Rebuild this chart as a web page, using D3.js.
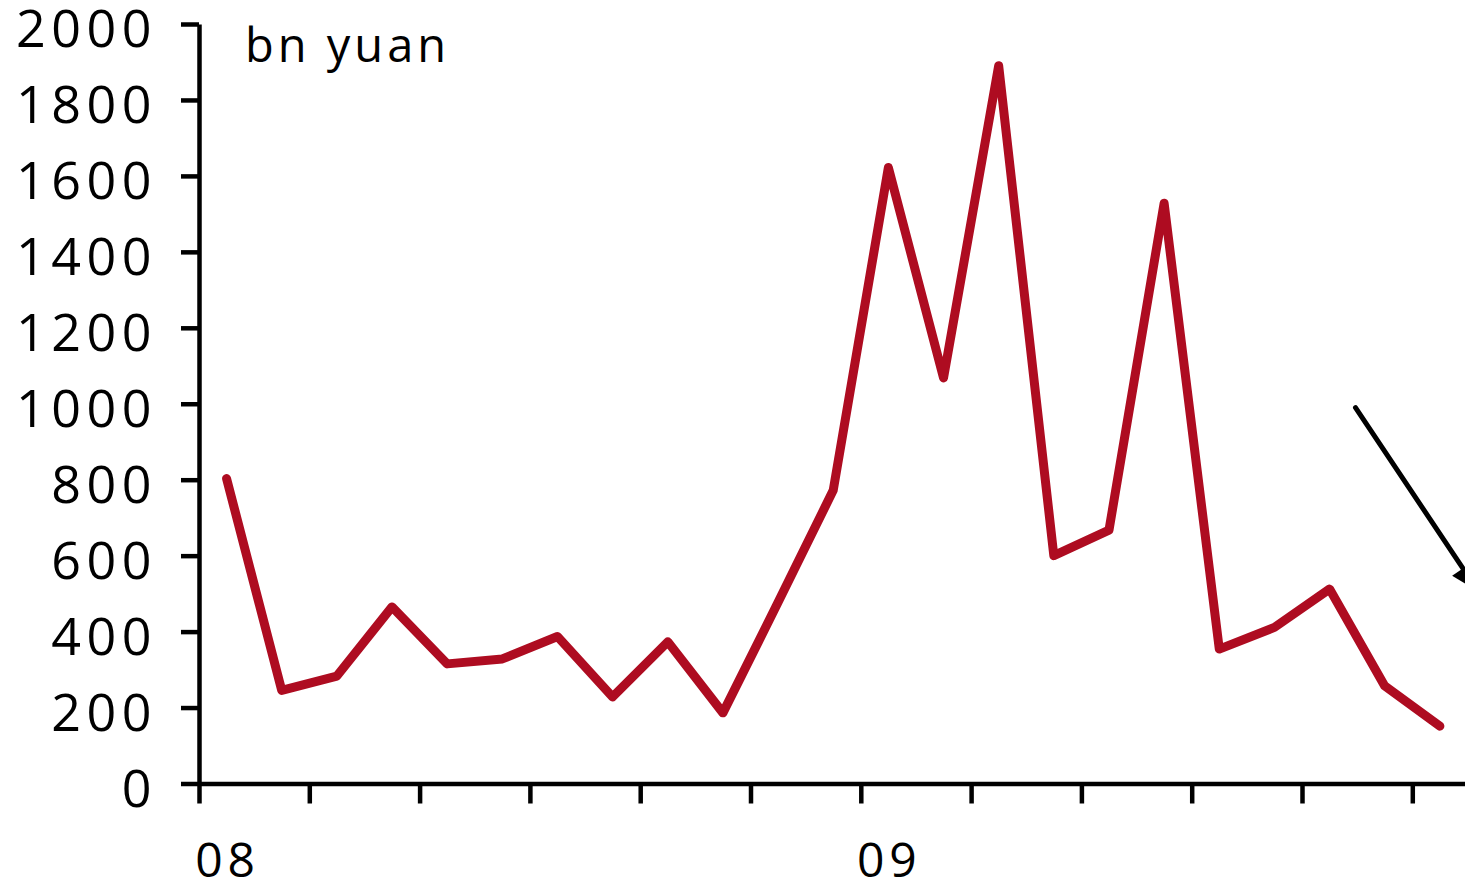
<!DOCTYPE html>
<html><head><meta charset="utf-8">
<script src="https://cdn.jsdelivr.net/npm/d3@7"></script>
<style>body{margin:0;background:#fff;} svg{display:block;}</style>
</head><body>
<svg id="chart" width="1465" height="887"></svg>
<script>
// Monthly new loans, Jan 2008 – Nov 2009 (bn yuan)
const months = ["2008-01","2008-02","2008-03","2008-04","2008-05","2008-06","2008-07","2008-08","2008-09","2008-10","2008-11","2008-12",
                "2009-01","2009-02","2009-03","2009-04","2009-05","2009-06","2009-07","2009-08","2009-09","2009-10","2009-11"];
const loans = [803, 245, 283, 465, 315, 328, 387, 228, 373, 186, 477, 772,
               1622, 1068, 1890, 600, 667, 1528, 354, 411, 512, 257, 151];
const yTicks = [0,200,400,600,800,1000,1200,1400,1600,1800,2000];
const xTickMonths = [0,2,4,6,8,10,12,14,16,18,20,22];
const yearLabels = ["08","09"];
const yearStartIndex = [0,12];
const unitLabel = "bn yuan";
// annotation arrow (month index, value)
const arrowFrom = [20.97, 990];
const arrowTo = [23.2, 505];

const svg = d3.select("#chart");
const FONT = "'Open Sans', 'Noto Sans', sans-serif";
const x = d3.scaleLinear().domain([0, 24]).range([199, 199 + 24 * 55.15]);
const y = d3.scaleLinear().domain([0, 2000]).range([783.5, 24]);

// y axis
const yAxis = svg.append("g").attr("transform", "translate(199,0)")
  .call(d3.axisLeft(y).tickValues(yTicks).tickFormat(d3.format("d"))
    .tickSize(18).tickSizeOuter(0).tickPadding(24));
yAxis.select(".domain").attr("stroke", "#000").attr("stroke-width", 4.5);
yAxis.selectAll(".tick line").attr("stroke", "#000").attr("stroke-width", 4.5);
yAxis.selectAll(".tick text").attr("fill", "#000")
  .style("font-family", FONT).style("font-size", "52px").style("letter-spacing", "5.5px")
  .attr("y", 4).attr("dy", "0.36em");

// x axis
const xAxis = svg.append("g").attr("transform", `translate(0,${y(0)})`)
  .call(d3.axisBottom(x).tickValues(xTickMonths).tickSize(20).tickSizeOuter(0).tickFormat(""));
xAxis.select(".domain").attr("stroke", "#000").attr("stroke-width", 4.5);
xAxis.selectAll(".tick line").attr("stroke", "#000").attr("stroke-width", 4.5);

svg.append("g").selectAll("text").data(yearLabels).join("text")
  .attr("x", (d, i) => x(yearStartIndex[i] + 0.5) + 1)
  .attr("y", 877)
  .attr("text-anchor", "middle")
  .style("font-family", FONT).style("font-size", "48px").style("letter-spacing", "5px")
  .attr("fill", "#000")
  .text(d => d);

// unit label
svg.append("text").attr("x", 245).attr("y", 62)
  .style("font-family", FONT).style("font-size", "47px").style("letter-spacing", "4px")
  .attr("fill", "#000").text(unitLabel);

// line
const line = d3.line().x((d, i) => x(i + 0.5)).y(d => y(d));
svg.append("path").datum(loans)
  .attr("d", line)
  .attr("fill", "none")
  .attr("stroke", "#AE0C21")
  .attr("stroke-width", 9)
  .attr("stroke-linejoin", "round")
  .attr("stroke-linecap", "round");

// arrow
const ax1 = x(arrowFrom[0]), ay1 = y(arrowFrom[1]);
const ax2 = x(arrowTo[0]), ay2 = y(arrowTo[1]);
const ang = Math.atan2(ay2 - ay1, ax2 - ax1);
const headLen = 28, headW = 13;
const bx = ax2 - headLen * Math.cos(ang), by = ay2 - headLen * Math.sin(ang);
svg.append("line")
  .attr("x1", ax1).attr("y1", ay1).attr("x2", bx).attr("y2", by)
  .attr("stroke", "#000").attr("stroke-width", 5).attr("stroke-linecap", "round");
svg.append("path")
  .attr("d", `M${ax2},${ay2}L${bx + headW * Math.sin(ang)},${by - headW * Math.cos(ang)}L${bx - headW * Math.sin(ang)},${by + headW * Math.cos(ang)}Z`)
  .attr("fill", "#000");
</script>
</body></html>
